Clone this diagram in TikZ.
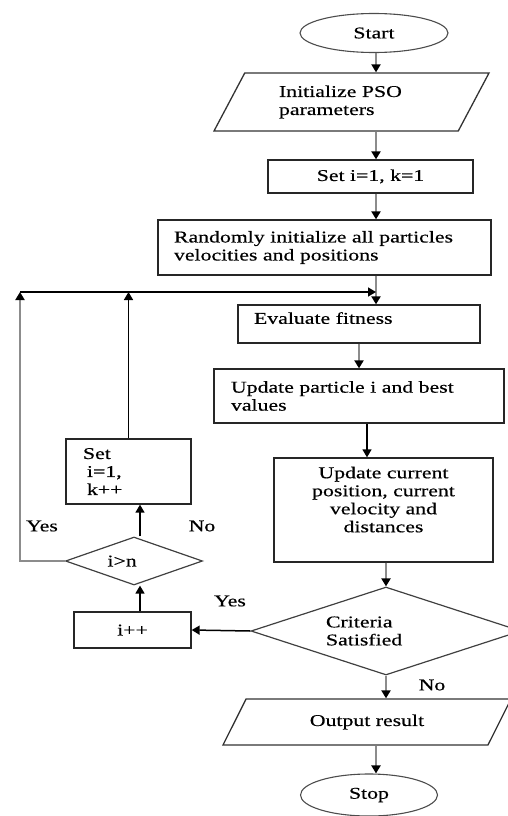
\documentclass[tikz,border=0pt]{standalone}
\usepackage{fontspec}
\setmainfont{Liberation Serif}[FakeStretch=1.32,FakeBold=0.4]
\usetikzlibrary{arrows.meta,shapes.geometric}

\begin{document}
\begin{tikzpicture}[x=1pt, y=-1pt,
		font=\fontsize{16.5}{18}\selectfont,
		box/.style={draw=black!85, line width=1.3pt, rectangle, inner sep=0pt},
		term/.style={draw=black!70, line width=1.1pt, ellipse, inner sep=0pt},
		io/.style={draw=black!80, line width=1.3pt, trapezium, trapezium stretches body, inner sep=0pt},
		test/.style={draw=black!75, line width=1.2pt, diamond, inner sep=0pt},
		garrow/.style={draw=black!45, line width=2pt, -{Triangle[length=8pt,width=9pt,color=black]}},
		barrow/.style={draw=black, line width=1.5pt, -{Triangle[length=8pt,width=9pt]}}]
		%%%%% START %%%%%
		
		\useasboundingbox (0,0) rectangle (507,816);
		\coordinate (spine) at (376,0);
		\coordinate (lx) at (140,0);
		\coordinate (back) at (20,292);
		\coordinate (merge) at (376,292);
		
		\node[term, minimum width=148pt, minimum height=39pt] (start) at (374,33) {Start};
		\node[io, trapezium left angle=47, trapezium right angle=133, minimum width=275pt, minimum height=58pt, text width=145pt, align=left] (init) at (351.5,102) {Initialize PSO\\parameters};
		\node[box, minimum width=205pt, minimum height=33pt] (seti) at (370.5,176.5) {Set i=1, k=1};
		\node[box, minimum width=333pt, minimum height=55pt, text width=301pt, align=left] (rand) at (324.5,247.5) {Randomly initialize all particles\\velocities and positions};
		\node[box, minimum width=242pt, minimum height=38pt, text width=210pt, align=left] (eval) at (359,324) {Evaluate fitness\\[-6pt]\mbox{}};
		\node[box, minimum width=290pt, minimum height=54pt, text width=256pt, align=left] (upd) at (359,396) {Update particle i and best\\values};
		\node[box, minimum width=219pt, minimum height=104pt, align=center] (pos) at (383.5,510) {Update current\\position, current\\velocity and\\distances\\[3pt]\mbox{}};
		
		\node[box, minimum width=125pt, minimum height=65pt, text width=91pt, align=left] (setk) at (128.5,471.5) {Set\\\hspace*{4pt}i=1,\\\hspace*{4pt}k++};
		\node[test, aspect=2.85, minimum width=137pt, minimum height=48pt, text width=53pt, align=left] (chk) at (134,561) {i>n};
		\node[box, minimum width=117pt, minimum height=36pt] (inc) at (132.5,630) {i++};
		
		\node[test, aspect=3.07, minimum width=270pt, minimum height=88pt, text width=120pt, align=left] (crit) at (386,631) {Criteria\\Satisfied};
		\node[io, trapezium left angle=33, trapezium right angle=147, minimum width=288pt, minimum height=46pt] (outp) at (367,722) {Output result};
		\node[term, minimum width=137pt, minimum height=42pt] (stop) at (369,795) {Stop};
		
		\node (yesB) at (42,526) {Yes};
		\node (noB) at (202,526) {No};
		\node (yesC) at (230,601) {Yes};
		\node (noC) at (432,685) {No};
		
		\draw[garrow] (start.south -| spine) -- (init.north -| spine);
		\draw[garrow] (init.south -| spine) -- (seti.north -| spine);
		\draw[garrow] (seti.south -| spine) -- (rand.north -| spine);
		\draw[garrow] (rand.south -| spine) -- (eval.north -| spine);
		\draw[garrow] (eval.south) -- (upd.north);
		\draw[barrow] ([xshift=8pt]upd.south) -- ([xshift=8pt]upd.south |- pos.north);
		\draw[garrow] (pos.south -| crit.north) -- (crit.north);
		\draw[garrow] (crit.south) -- (crit.south |- outp.north);
		\draw[garrow] (outp.south -| spine) -- (stop.north -| spine);
		
		\draw[barrow] (crit.west) -- (inc.east);
		\draw[barrow] (inc.north -| lx) -- (chk.south -| lx);
		\draw[barrow] (chk.north -| lx) -- (setk.south -| lx);
		\draw[garrow] (chk.west) -| (back);
		\draw[barrow] (setk.north) -- (setk.north |- merge);
		\draw[barrow] (back) -- (merge);
		
		%%%%% END %%%%%
	\end{tikzpicture}
\end{document}
